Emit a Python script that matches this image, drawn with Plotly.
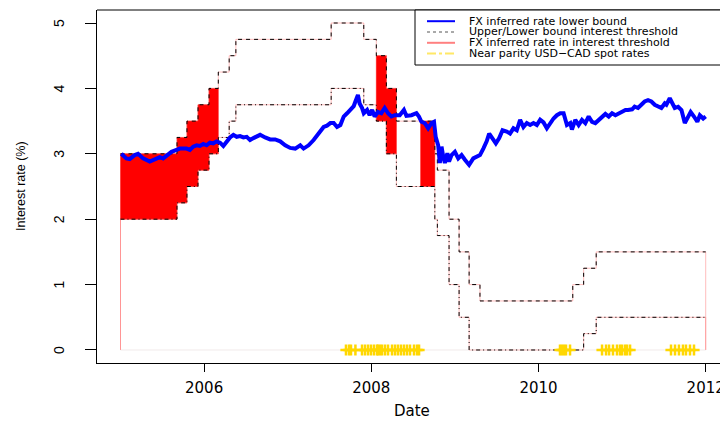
import plotly.graph_objects as go

# ---------------- data ----------------
# Interest threshold step changes (decimal year) and upper / lower bounds (%)
step_dates = [2005.0, 2005.676, 2005.795, 2005.927, 2006.059, 2006.17, 2006.30, 2006.38,
              2007.52, 2007.91, 2008.06, 2008.18, 2008.30, 2008.76, 2008.79, 2008.93,
              2009.05, 2009.17, 2009.30, 2010.41, 2010.54, 2010.69, 2012.0]
upper_rate = [3.0, 3.25, 3.5, 3.75, 4.0, 4.25, 4.5, 4.75, 5.0, 4.75, 4.5, 4.0, 3.5,
              3.0, 2.75, 2.0, 1.5, 1.0, 0.75, 1.0, 1.25, 1.5, 1.5]
lower_rate = [2.0, 2.25, 2.5, 2.75, 3.0, 3.25, 3.5, 3.75, 4.0, 3.75, 3.5, 3.0, 2.5,
              2.0, 1.75, 1.0, 0.5, 0.0, 0.0, 0.0, 0.25, 0.5, 0.5]

# periods where the FX inferred rate lies inside the threshold
in_threshold_periods = [(2005.0, 2006.17), (2008.06, 2008.30), (2008.59, 2008.76)]

# FX inferred rate lower bound
fx_dates = [2005.01, 2005.07, 2005.11, 2005.17, 2005.21, 2005.27, 2005.35, 2005.41, 2005.47,
            2005.51, 2005.57, 2005.61, 2005.67, 2005.71, 2005.75, 2005.79, 2005.83, 2005.87,
            2005.91, 2005.95, 2005.99, 2006.03, 2006.07, 2006.11, 2006.15, 2006.19, 2006.23,
            2006.27, 2006.31, 2006.35, 2006.39, 2006.43, 2006.47, 2006.51, 2006.55, 2006.59,
            2006.65, 2006.67, 2006.73, 2006.79, 2006.85, 2006.91, 2006.97, 2007.03, 2007.09,
            2007.15, 2007.19, 2007.25, 2007.31, 2007.37, 2007.43, 2007.47, 2007.51, 2007.55,
            2007.59, 2007.63, 2007.67, 2007.71, 2007.75, 2007.79, 2007.81, 2007.84, 2007.86,
            2007.89, 2007.91, 2007.95, 2007.98, 2008.01, 2008.04, 2008.08, 2008.12, 2008.16,
            2008.20, 2008.24, 2008.28, 2008.34, 2008.39, 2008.42, 2008.48, 2008.54, 2008.57,
            2008.60, 2008.64, 2008.68, 2008.72, 2008.75, 2008.77, 2008.80, 2008.82, 2008.84,
            2008.86, 2008.88, 2008.91, 2008.93, 2008.96, 2009.00, 2009.04, 2009.08, 2009.12,
            2009.17, 2009.22, 2009.26, 2009.30, 2009.34, 2009.38, 2009.41, 2009.45, 2009.49,
            2009.53, 2009.57, 2009.62, 2009.66, 2009.70, 2009.74, 2009.78, 2009.82, 2009.86,
            2009.90, 2009.94, 2009.98, 2010.02, 2010.06, 2010.10, 2010.14, 2010.18, 2010.22,
            2010.26, 2010.30, 2010.34, 2010.38, 2010.40, 2010.44, 2010.48, 2010.52, 2010.56,
            2010.60, 2010.64, 2010.68, 2010.72, 2010.76, 2010.80, 2010.84, 2010.88, 2010.92,
            2010.96, 2011.00, 2011.04, 2011.07, 2011.12, 2011.15, 2011.19, 2011.23, 2011.27,
            2011.31, 2011.35, 2011.39, 2011.43, 2011.47, 2011.51, 2011.53, 2011.57, 2011.60,
            2011.63, 2011.67, 2011.71, 2011.75, 2011.79, 2011.82, 2011.86, 2011.90, 2011.93,
            2011.97, 2012.00]
fx_rate = [3.00, 2.93, 2.92, 2.98, 3.00, 2.93, 2.88, 2.91, 2.95,
           2.93, 2.98, 3.03, 3.06, 3.08, 3.08, 3.08, 3.06, 3.11,
           3.13, 3.12, 3.15, 3.13, 3.17, 3.16, 3.19, 3.17, 3.12,
           3.19, 3.25, 3.29, 3.26, 3.27, 3.25, 3.26, 3.21, 3.24,
           3.29, 3.29, 3.25, 3.22, 3.22, 3.19, 3.13, 3.09, 3.08,
           3.13, 3.08, 3.13, 3.21, 3.31, 3.41, 3.43, 3.47, 3.47,
           3.41, 3.44, 3.57, 3.62, 3.67, 3.73, 3.80, 3.90, 3.77,
           3.70, 3.62, 3.67, 3.59, 3.67, 3.57, 3.64, 3.62, 3.70,
           3.62, 3.57, 3.59, 3.59, 3.67, 3.58, 3.59, 3.62, 3.57,
           3.49, 3.47, 3.39, 3.47, 3.49, 3.26, 3.13, 2.86, 3.11,
           2.96, 2.86, 3.01, 2.88, 2.98, 3.03, 2.93, 2.98, 2.91,
           2.83, 2.93, 2.96, 2.98, 3.08, 3.19, 3.31, 3.24, 3.16,
           3.24, 3.36, 3.34, 3.31, 3.39, 3.36, 3.52, 3.41, 3.47,
           3.44, 3.47, 3.44, 3.52, 3.48, 3.39, 3.47, 3.54, 3.59,
           3.62, 3.62, 3.44, 3.47, 3.37, 3.52, 3.44, 3.52, 3.47,
           3.57, 3.49, 3.47, 3.52, 3.57, 3.61, 3.57, 3.62, 3.59,
           3.62, 3.64, 3.67, 3.67, 3.68, 3.72, 3.70, 3.75, 3.80,
           3.82, 3.80, 3.75, 3.72, 3.70, 3.77, 3.75, 3.85, 3.77,
           3.70, 3.72, 3.67, 3.47, 3.57, 3.64, 3.57, 3.49, 3.59,
           3.54, 3.57]

# Near parity USD-CAD spot rate dates (plotted at 0)
parity_dates = [2007.697, 2007.733, 2007.757, 2007.81, 2007.889, 2007.925, 2007.961, 2007.996,
                2008.032, 2008.068, 2008.080, 2008.104, 2008.128, 2008.164, 2008.200, 2008.248,
                2008.284, 2008.319, 2008.355, 2008.391, 2008.427, 2008.463, 2008.511, 2008.547,
                2008.571,
                2010.257, 2010.281, 2010.305, 2010.329, 2010.377,
                2010.760, 2010.808, 2010.844, 2010.891, 2010.939, 2010.975, 2010.999, 2011.035,
                2011.059, 2011.095,
                2011.585, 2011.633, 2011.680, 2011.728, 2011.764, 2011.812, 2011.860]
parity_level = [0.0] * len(parity_dates)

x_tick_vals = [2006, 2008, 2010, 2012]
x_tick_text = ["2006", "2008", "2010", "2012"]
y_tick_vals = [0, 1, 2, 3, 4, 5]
y_tick_text = ["0", "1", "2", "3", "4", "5"]

legend_labels = ["FX inferred rate lower bound",
                 "Upper/Lower bound interest threshold",
                 "FX inferred rate in interest threshold",
                 "Near parity USD\u2212CAD spot rates"]


# ---------------- helpers ----------------
def step_at(t, xs, ys):
    v = ys[0]
    for x, y in zip(xs, ys):
        if x <= t + 1e-9:
            v = y
    return v


def band_polygon(a, b):
    inner = [x for x in step_dates if a < x < b]
    pts = [a] + inner + [b]
    segs = list(zip(pts[:-1], pts[1:]))
    px, py = [], []
    for s, e in segs:
        u = step_at(s, step_dates, upper_rate)
        px += [s, e]
        py += [u, u]
    for s, e in reversed(segs):
        lo = step_at(s, step_dates, lower_rate)
        px += [e, s]
        py += [lo, lo]
    px.append(px[0])
    py.append(py[0])
    return px, py


fig = go.Figure()

# red fill: FX rate inside threshold
for a, b in in_threshold_periods:
    px, py = band_polygon(a, b)
    fig.add_trace(go.Scatter(x=px, y=py, mode="lines", fill="toself",
                             fillcolor="#FF0000", line=dict(color="#FF0000", width=0.5),
                             showlegend=False, hoverinfo="skip"))

# faint red outlines of threshold bands
pink = "rgba(255,90,90,0.4)"
fig.add_trace(go.Scatter(x=[step_dates[0]] + step_dates + [step_dates[-1]],
                         y=[0] + upper_rate + [0], mode="lines", line_shape="hv",
                         line=dict(color=pink, width=1), showlegend=False, hoverinfo="skip"))
fig.add_trace(go.Scatter(x=[step_dates[0]] + step_dates + [step_dates[-1]],
                         y=[0] + lower_rate + [0], mode="lines", line_shape="hv",
                         line=dict(color=pink, width=1), showlegend=False, hoverinfo="skip"))
fig.add_trace(go.Scatter(x=[step_dates[0], step_dates[-1]], y=[0, 0], mode="lines",
                         line=dict(color="rgba(225,210,210,0.45)", width=1),
                         showlegend=False, hoverinfo="skip"))

# thresholds
fig.add_trace(go.Scatter(x=step_dates, y=upper_rate, mode="lines", line_shape="hv",
                         line=dict(color="black", width=1, dash="4px,4px"),
                         showlegend=False))
fig.add_trace(go.Scatter(x=step_dates, y=lower_rate, mode="lines", line_shape="hv",
                         line=dict(color="black", width=1, dash="4px,3px,1px,3px"),
                         showlegend=False))

# FX inferred rate
fig.add_trace(go.Scatter(x=fx_dates, y=fx_rate, mode="lines",
                         line=dict(color="#0000FF", width=4),
                         showlegend=False))

# near parity markers
fig.add_trace(go.Scatter(x=parity_dates, y=parity_level, mode="markers",
                         marker=dict(symbol="cross-thin", size=8,
                                     line=dict(color="#FFD700", width=2.5)),
                         showlegend=False))

# ---------------- layout ----------------
# The page body adds an 8px margin; work in window pixels and shift.
OFF = 8
W, H = 728 - OFF, 422 - OFF
PL, PR, PT, PB = 97, 728, 10, 363          # plot box in window pixels
ml, mt = PL - OFF, PT - OFF
mr = W - (PR - OFF)
mb = H - (PB - OFF)
pw, ph = PR - PL, PB - PT


def pxx(x):
    return (x - PL) / pw


def pxy(y):
    return (PB - y) / ph


shapes = [
    # top border of box
    dict(type="line", xref="paper", yref="paper", x0=0, x1=1, y0=1, y1=1,
         line=dict(color="black", width=1)),
    # legend box
    dict(type="rect", xref="paper", yref="paper", x0=pxx(415), x1=1.0,
         y0=pxy(65), y1=1.0, line=dict(color="black", width=1), fillcolor="white",
         layer="above"),
]
legend_rows = [21.2, 32.0, 42.8, 53.6]
legend_styles = [dict(color="#0000FF", width=2),
                 dict(color="#555555", width=1, dash="dot"),
                 dict(color="#FF8080", width=2),
                 dict(color="#FFE866", width=2, dash="dashdot")]
annotations = []
for yy, st, lab in zip(legend_rows, legend_styles, legend_labels):
    shapes.append(dict(type="line", xref="paper", yref="paper", x0=pxx(427), x1=pxx(455),
                       y0=pxy(yy), y1=pxy(yy), line=st, layer="above"))
    annotations.append(dict(xref="paper", yref="paper", x=pxx(467), y=pxy(yy),
                            xanchor="left", yanchor="middle", text=lab, showarrow=False,
                            font=dict(family="DejaVu Sans", size=11, color="black")))

# y tick labels (rotated, as in the reference)
for v, t in zip(y_tick_vals, y_tick_text):
    annotations.append(dict(xref="paper", yref="y", x=pxx(59), y=v, text=t,
                            textangle=-90, xanchor="center", yanchor="middle",
                            showarrow=False,
                            font=dict(family="Liberation Sans", size=14, color="black")))

annotations.append(dict(xref="paper", yref="paper", x=pxx(412), y=pxy(411),
                        xanchor="center", yanchor="middle", text="Date", showarrow=False,
                        font=dict(family="DejaVu Sans", size=15, color="black")))
annotations.append(dict(xref="paper", yref="paper", x=pxx(21), y=pxy(186),
                        xanchor="center", yanchor="middle", text="Interest rate (%)",
                        textangle=-90, showarrow=False,
                        font=dict(family="Liberation Sans", size=12.5, color="black")))

fig.update_layout(
    width=W, height=H,
    margin=dict(l=ml, r=mr, t=mt, b=mb, pad=0),
    paper_bgcolor="white", plot_bgcolor="white",
    showlegend=False,
    shapes=shapes, annotations=annotations,
    xaxis=dict(range=[2004.7189, 2012.2667], tickvals=x_tick_vals, ticktext=x_tick_text,
               showgrid=False, zeroline=False, showline=True, linecolor="black", linewidth=1,
               ticks="outside", ticklen=8, tickwidth=1, tickcolor="black",
               tickfont=dict(family="DejaVu Sans", size=15, color="black"),
               ticklabelstandoff=3, automargin=False),
    yaxis=dict(range=[-0.199, 5.199], tickvals=y_tick_vals, showticklabels=False,
               showgrid=False, zeroline=False, showline=True, linecolor="black", linewidth=1,
               ticks="outside", ticklen=11, tickwidth=1, tickcolor="black",
               automargin=False),
)

fig.write_html("out.html")
